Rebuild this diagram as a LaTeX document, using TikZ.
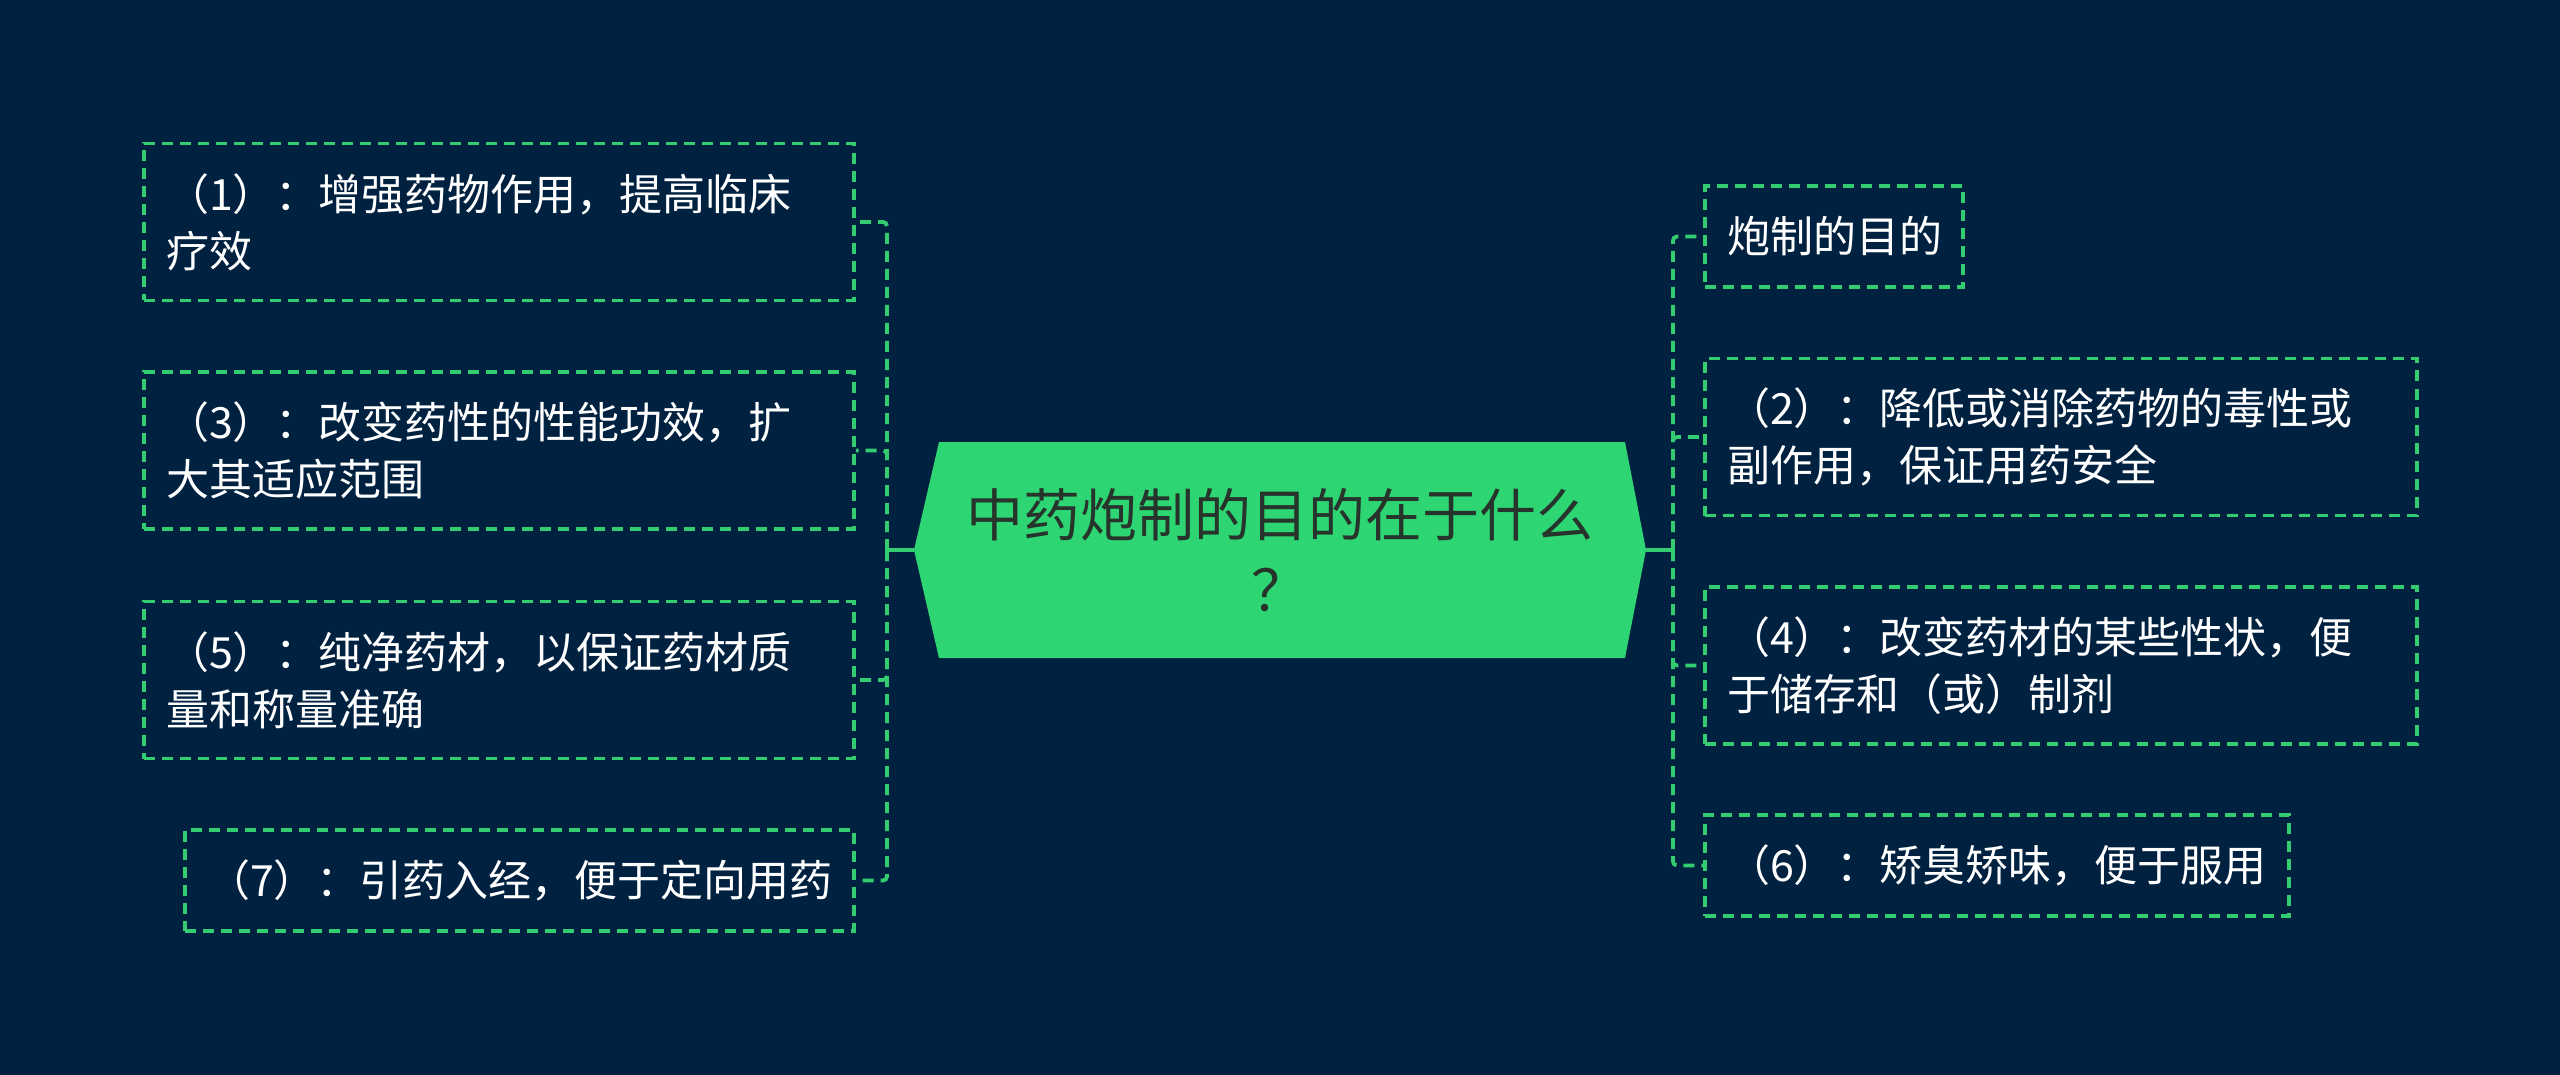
\documentclass[tikz,border=0pt]{standalone}
\usepackage{fontspec}
\newfontfamily\cjk{Noto Sans CJK SC}
\definecolor{bgnavy}{RGB}{0,34,64}
\definecolor{lineg}{RGB}{52,204,112}
\definecolor{hexg}{RGB}{46,214,115}
\definecolor{ctext}{RGB}{38,52,44}
\tikzset{
  branchbox/.style={draw=lineg, line width=3.6pt, dash pattern=on 11pt off 7pt,
    text=white, font=\cjk\fontsize{43}{57}\selectfont, align=left,
    inner xsep=22pt, inner ysep=0pt, rectangle},
  twoline/.style={branchbox, minimum height=157pt},
  oneline/.style={branchbox, minimum height=101pt},
  conn/.style={draw=lineg, line width=3.8pt, dash pattern=on 11pt off 7pt, rounded corners=4pt},
  trunk/.style={draw=lineg, line width=3.6pt},
  centerbox/.style={rectangle, inner sep=0pt, minimum width=732pt, minimum height=216pt,
    text=ctext, font=\cjk\fontsize{57}{75}\selectfont, align=center,
    path picture={\fill[hexg]
      ([xshift=25pt]path picture bounding box.north west) --
      ([xshift=-21pt]path picture bounding box.north east) --
      (path picture bounding box.east) --
      ([xshift=-21pt]path picture bounding box.south east) --
      ([xshift=25pt]path picture bounding box.south west) --
      (path picture bounding box.west) -- cycle;}},
}
\begin{document}
\begin{tikzpicture}[x=1pt,y=-1pt]
\useasboundingbox (0,0) rectangle (2560,1075);
\fill[bgnavy] (0,0) rectangle (2560,1075);

\node[centerbox] (c) at (1280,550) {中药炮制的目的在于什么\\？};

\node[twoline, text width=666pt] (b1) at (499,222) {（1）：增强药物作用，提高临床\\疗效};
\node[twoline, text width=666pt] (b3) at (499,450.5) {（3）：改变药性的性能功效，扩\\大其适应范围};
\node[twoline, text width=666pt] (b5) at (499,680) {（5）：纯净药材，以保证药材质\\量和称量准确};
\node[oneline, text width=625pt] (b7) at (519.5,880.5) {（7）：引药入经，便于定向用药};

\node[oneline, text width=214pt] (b0) at (1834,236.5) {炮制的目的};
\node[twoline, text width=668pt] (b2) at (2061,437) {（2）：降低或消除药物的毒性或\\副作用，保证用药安全};
\node[twoline, text width=668pt] (b4) at (2061,665.5) {（4）：改变药材的某些性状，便\\于储存和（或）制剂};
\node[oneline, text width=540pt] (b6) at (1997,865.5) {（6）：矫臭矫味，便于服用};

\coordinate (lj) at (887,550);
\coordinate (rj) at (1673,550);
\draw[trunk] (c.west) -- (lj);
\draw[trunk] (c.east) -- (rj);
\foreach \b in {b1,b3,b5,b7} \draw[conn] (lj) |- (\b.east);
\foreach \b in {b0,b2,b4,b6} \draw[conn] (rj) |- (\b.west);
\end{tikzpicture}
\end{document}
